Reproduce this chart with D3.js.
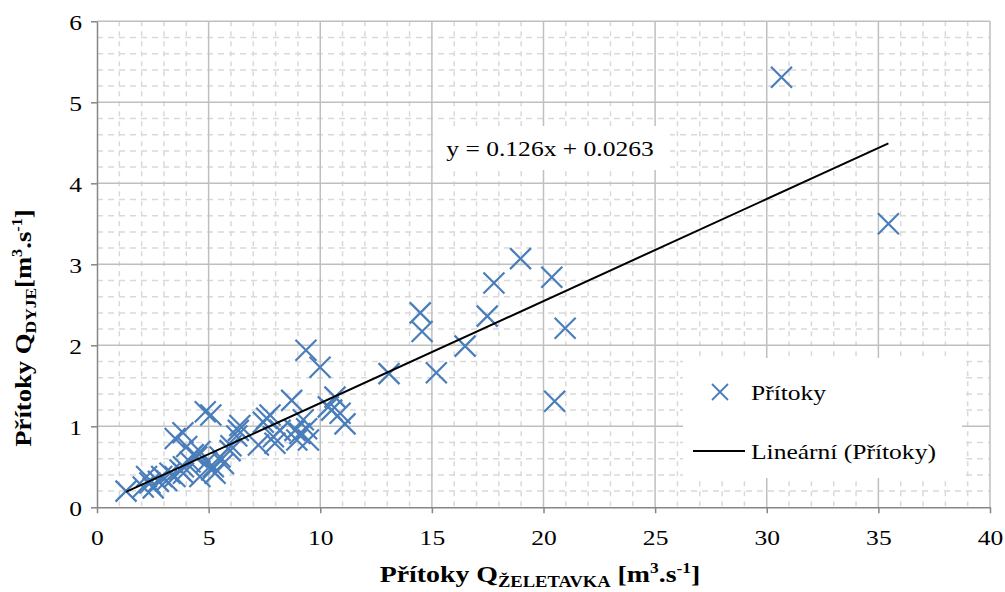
<!DOCTYPE html>
<html>
<head>
<meta charset="utf-8">
<script src="https://cdn.jsdelivr.net/npm/d3@7"></script>
<style>
  body { margin: 0; background: #fff; }
  svg text { font-family: "Liberation Serif", "Times New Roman", serif; fill: #000; }
</style>
</head>
<body>
<div id="chart"></div>
<script>
// data (Přítoky Želetavka vs Přítoky Dyje)
var qZeletavka = [1.30, 2.07, 2.22, 2.37, 2.52, 2.75, 2.90, 3.12, 3.27, 3.49, 3.72, 3.87, 3.50, 3.85,
    4.02, 4.17, 4.31, 4.47, 4.61, 4.61, 3.87, 4.91, 5.21, 4.85, 5.10, 5.14, 5.29, 5.51, 5.66, 5.96,
    6.00, 6.33, 6.40, 6.26, 7.23, 7.45, 7.60, 7.75, 7.90, 7.97, 8.20, 8.72, 8.87, 8.95, 9.09, 9.24,
    9.36, 9.39, 9.47, 9.99, 10.36, 10.51, 10.66, 10.89, 11.11, 13.08, 14.48, 14.56, 15.20, 16.49,
    17.48, 17.78, 18.97, 20.37, 20.50, 20.97, 30.66, 35.45]
var qDyje = [0.20, 0.25, 0.38, 0.30, 0.24, 0.32, 0.38, 0.33, 0.42, 0.38, 0.46, 0.50, 0.85, 0.92,
    0.75, 0.56, 0.65, 0.62, 0.69, 0.38, 0.42, 0.56, 0.50, 1.18, 1.14, 0.46, 0.42, 0.62, 0.54, 0.70,
    0.76, 0.95, 1.01, 0.88, 0.77, 1.05, 1.10, 1.14, 0.87, 0.79, 0.95, 1.32, 0.95, 0.83, 0.91, 1.08,
    1.94, 0.97, 0.83, 1.73, 1.24, 1.20, 1.36, 1.16, 1.03, 1.65, 2.40, 2.17, 1.66, 1.99,
    2.36, 2.77, 3.07, 2.84, 1.31, 2.21, 5.31, 3.50]
var xTicks = [0, 5, 10, 15, 20, 25, 30, 35, 40]
var yTicks = [0, 1, 2, 3, 4, 5, 6]
var trendSlope = 0.126, trendIntercept = 0.0263
var seriesName = "Přítoky"
var trendName = "Lineární (Přítoky)"
var equationLabel = "y = 0.126x + 0.0263"

var W = 1005, H = 592
var SX = 1.16   // text in the picture is a bit wider than tall
var blue = "#4a7ebb"
var serif = "'Liberation Serif', 'Times New Roman', serif"

var svg = d3.select("#chart").append("svg")
    .attr("width", W).attr("height", H)
    .attr("font-family", serif)

var x = d3.scaleLinear().domain([0, 40]).range([97, 990])
var y = d3.scaleLinear().domain([0, 6]).range([507.3, 21.3])

// minor grid (dashed)
var gMinor = svg.append("g")
gMinor.selectAll("line.vx")
    .data(d3.range(0, 41).filter(function(d){ return d % 5 != 0 }))
    .enter().append("line")
    .attr("x1", function(d){ return x(d) }).attr("x2", function(d){ return x(d) })
    .attr("y1", y(6)).attr("y2", y(0))
    .style("stroke", "#d9d9d9").style("stroke-width", 1.5).style("stroke-dasharray", "5,5")
gMinor.selectAll("line.hy")
    .data(d3.range(0, 31).filter(function(d){ return d % 5 != 0 }).map(function(d){ return d / 5 }))
    .enter().append("line")
    .attr("x1", x(0)).attr("x2", x(40))
    .attr("y1", function(d){ return y(d) }).attr("y2", function(d){ return y(d) })
    .style("stroke", "#d9d9d9").style("stroke-width", 1.5).style("stroke-dasharray", "6,5")

// major grid
var gMajor = svg.append("g")
gMajor.selectAll("line.vx").data(xTicks.slice(1)).enter().append("line")
    .attr("x1", function(d){ return x(d) }).attr("x2", function(d){ return x(d) })
    .attr("y1", y(6)).attr("y2", y(0))
    .style("stroke", "#bfbfbf").style("stroke-width", 1.5)
gMajor.selectAll("line.hy").data(yTicks.slice(1)).enter().append("line")
    .attr("x1", x(0)).attr("x2", x(40))
    .attr("y1", function(d){ return y(d) }).attr("y2", function(d){ return y(d) })
    .style("stroke", "#bfbfbf").style("stroke-width", 1.5)

// axes
var xAxis = svg.append("g").attr("transform", "translate(0," + y(0) + ")")
    .call(d3.axisBottom(x).tickValues(xTicks).tickFormat(d3.format("d")).tickSize(6).tickSizeOuter(0))
var yAxis = svg.append("g").attr("transform", "translate(" + x(0) + ",0)")
    .call(d3.axisLeft(y).tickValues(yTicks).tickFormat(d3.format("d")).tickSize(6).tickSizeOuter(0))

;[xAxis, yAxis].forEach(function(g){
    g.attr("font-family", serif).attr("font-size", 22)
    g.select(".domain").style("stroke", "#868686").style("stroke-width", 1.5)
    g.selectAll(".tick line").style("stroke", "#868686").style("stroke-width", 1.5)
    g.selectAll("text").attr("fill", "#000")
})
xAxis.selectAll("text").attr("y", 0).attr("dy", 0)
    .attr("transform", "translate(0,38) scale(" + SX + ",1)")
yAxis.selectAll("text").attr("x", 0).attr("dy", 0)
    .attr("transform", "translate(-15,8) scale(" + SX + ",1)")

// points
var pts = qZeletavka.map(function(d, i){ return {x: d, y: qDyje[i]} })
function cross(r){ return "M" + (-r) + "," + (-r) + "L" + r + "," + r + "M" + (-r) + "," + r + "L" + r + "," + (-r) }
svg.append("g").selectAll("path").data(pts).enter().append("path")
    .attr("d", cross(10.5))
    .attr("transform", function(d){ return "translate(" + x(d.x) + "," + y(d.y) + ")" })
    .style("fill", "none").style("stroke", blue).style("stroke-width", 2.2)

// trendline
var ext = d3.extent(qZeletavka)
var trend = ext.map(function(v){ return {x: v, y: trendSlope * v + trendIntercept} })
svg.append("path").datum(trend)
    .attr("d", d3.line().x(function(d){ return x(d.x) }).y(function(d){ return y(d.y) }))
    .style("fill", "none").style("stroke", "#000").style("stroke-width", 2)

// equation label
svg.append("rect").attr("x", 437).attr("y", 126).attr("width", 233).attr("height", 44).style("fill", "#fff")
svg.append("text").attr("transform", "translate(550,156) scale(" + SX + ",1)")
    .attr("text-anchor", "middle").style("font-size", "22px").text(equationLabel)

// legend
var leg = svg.append("g")
leg.append("rect").attr("x", 683).attr("y", 358).attr("width", 279).attr("height", 120).style("fill", "#fff")
leg.append("path").attr("d", cross(8)).attr("transform", "translate(720,392)")
    .style("fill", "none").style("stroke", blue).style("stroke-width", 1.8)
leg.append("text").attr("transform", "translate(751,400) scale(" + SX + ",1)")
    .style("font-size", "22px").text(seriesName)
leg.append("line").attr("x1", 693).attr("x2", 745).attr("y1", 451).attr("y2", 451)
    .style("stroke", "#000").style("stroke-width", 2)
leg.append("text").attr("transform", "translate(751,459) scale(" + SX + ",1)")
    .style("font-size", "22px").text(trendName)

// axis titles
var xt = svg.append("text").attr("transform", "translate(540,582) scale(" + SX + ",1)")
    .attr("text-anchor", "middle").style("font-size", "24px").style("font-weight", "bold")
xt.append("tspan").text("Přítoky Q")
xt.append("tspan").attr("dy", 5).style("font-size", "16px").text("ŽELETAVKA")
xt.append("tspan").attr("dy", -5).text(" [m")
xt.append("tspan").attr("dy", -9).style("font-size", "15px").text("3")
xt.append("tspan").attr("dy", 9).text(".s")
xt.append("tspan").attr("dy", -9).style("font-size", "15px").text("-1")
xt.append("tspan").attr("dy", 9).text("]")

var yt = svg.append("text").attr("transform", "translate(31,328) rotate(-90) scale(" + SX + ",1)")
    .attr("text-anchor", "middle").style("font-size", "23px").style("font-weight", "bold")
yt.append("tspan").text("Přítoky Q")
yt.append("tspan").attr("dy", 5).style("font-size", "15px").text("DYJE")
yt.append("tspan").attr("dy", -5).text("[m")
yt.append("tspan").attr("dy", -9).style("font-size", "14px").text("3")
yt.append("tspan").attr("dy", 9).text(".s")
yt.append("tspan").attr("dy", -9).style("font-size", "14px").text("-1")
yt.append("tspan").attr("dy", 9).text("]")
</script>
</body>
</html>
